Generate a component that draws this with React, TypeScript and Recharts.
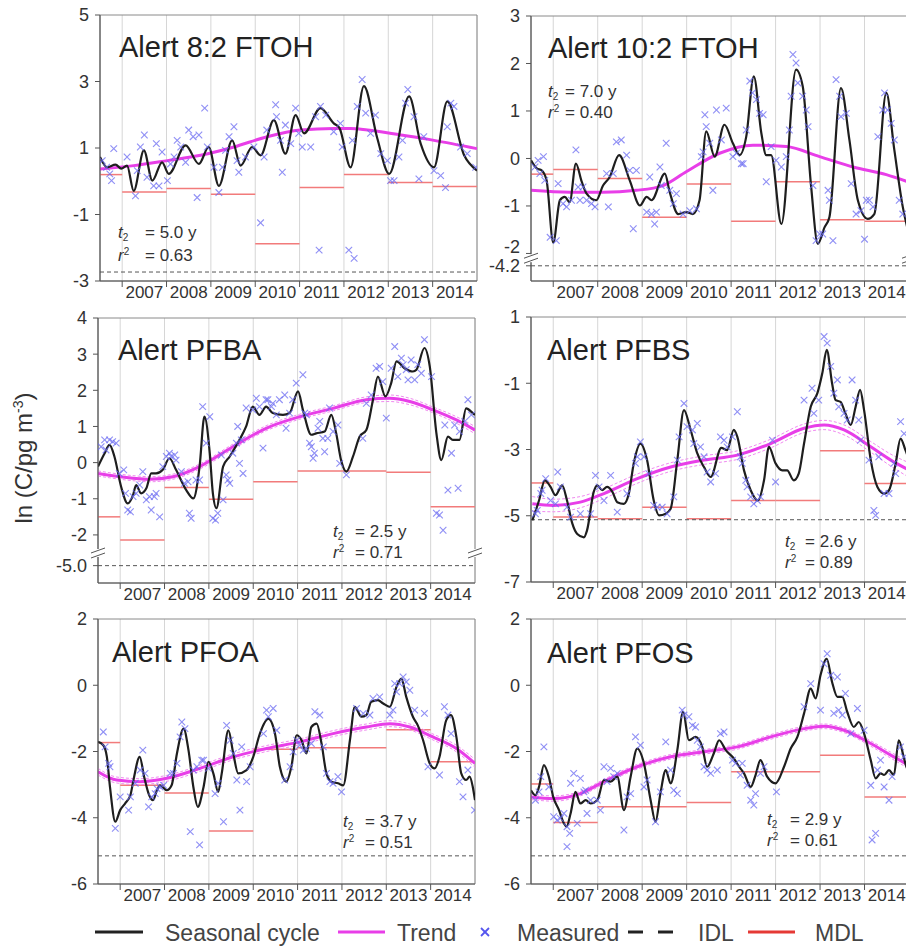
import React from 'react';
import {
  CartesianGrid,
  ComposedChart,
  Line,
  ReferenceArea,
  ReferenceDot,
  ReferenceLine,
  Scatter,
  XAxis,
  YAxis,
} from 'recharts';

const FONT = '"Liberation Sans", Arial, sans-serif';
const X0 = 2006.5;
const X1 = 2015;

const years = [2007, 2008, 2009, 2010, 2011, 2012, 2013, 2014];
// MDL is given per sampling year
const mdlEdges = [2006.5, 2007, 2008, 2009, 2010, 2011, 2012, 2013, 2014, 2015];

type Pt = [number, number];
type Band = [number, number, number];

// ---- Alert 8:2 FTOH
const ftoh82Cycle: Pt[] = [
  [2006.5, 0.73], [2006.66, 0.42], [2006.85, 0.5], [2006.98, 0.38], [2007.11, 0.47], [2007.26, -0.29],
  [2007.49, 0.93], [2007.68, 0.02], [2007.9, 0.57], [2008.05, 0.22], [2008.43, 1.08], [2008.73, 0.52],
  [2008.95, 1.03], [2009.18, -0.14], [2009.48, 1.23], [2009.67, 0.47], [2009.93, 1.03], [2010.12, 0.78],
  [2010.42, 1.84], [2010.68, 0.83], [2010.91, 1.99], [2011.1, 1.44], [2011.47, 2.2], [2011.77, 1.74],
  [2011.9, 1.6], [2012.15, 0.42], [2012.45, 2.86], [2012.75, 1.3], [2013.02, 0.22], [2013.47, 2.55],
  [2013.73, 1.13], [2014.03, 0.42], [2014.33, 2.4], [2014.71, 0.78], [2015, 0.32],
];
const ftoh82Trend: Pt[] = [
  [2006.5, 0.37], [2007.26, 0.47], [2008.02, 0.62], [2008.77, 0.78], [2009.52, 1.03], [2010.27, 1.34],
  [2011.02, 1.54], [2011.77, 1.59], [2012.15, 1.59], [2012.53, 1.54], [2013.28, 1.39], [2014.03, 1.23],
  [2015, 0.98],
];
const ftoh82Measured: Pt[] = [
  [2006.55, 0.62], [2006.65, 0.42], [2006.72, 0.22], [2006.76, 0.02], [2006.81, 0.98], [2007.11, 0.73],
  [2007.3, -0.44], [2007.34, 0.32], [2007.41, 1.03], [2007.5, 1.39], [2007.56, 0.12], [2007.71, -0.14],
  [2007.77, 1.13], [2007.83, -0.14], [2007.9, 0.88], [2008.02, 0.02], [2008.09, 0.52], [2008.17, 0.73],
  [2008.24, 1.23], [2008.32, 1.03], [2008.43, 0.57], [2008.5, 1.54], [2008.6, 1.34], [2008.69, -0.49],
  [2008.73, 1.39], [2008.86, 2.2], [2008.92, 1.03], [2009.07, 0.42], [2009.18, -0.34], [2009.26, 0.42],
  [2009.33, 0.93], [2009.41, 1.34], [2009.52, 1.64], [2009.59, 0.62], [2009.63, 0.27], [2009.78, 0.73],
  [2009.97, 1.03], [2010.12, -1.25], [2010.2, 0.73], [2010.26, 1.54], [2010.46, 2.3], [2010.48, 1.94],
  [2010.57, 1.23], [2010.61, 0.27], [2010.68, 1.69], [2010.8, 1.13], [2010.91, 2.2], [2010.98, 1.44],
  [2011.06, 1.03], [2011.25, 1.03], [2011.36, 1.94], [2011.44, -2.07], [2011.47, 2.25], [2011.59, 1.99],
  [2011.77, 1.49], [2011.92, 1.74], [2011.96, 1.03], [2012.11, -2.07], [2012.19, 1.23], [2012.23, -2.32],
  [2012.3, 2.25], [2012.41, 3.06], [2012.49, 2.05], [2012.6, 1.44], [2012.71, 1.99], [2012.83, 0.83],
  [2012.98, 0.62], [2013.05, 0.02], [2013.13, 0.02], [2013.24, 0.73], [2013.32, 1.23], [2013.39, 2.35],
  [2013.44, 2.76], [2013.58, 1.94], [2013.69, 0.07], [2013.8, 1.34], [2014.03, 0.32], [2014.18, 0.17],
  [2014.29, -0.19], [2014.33, 1.64], [2014.41, 2.35], [2014.48, 2.25], [2014.63, 1.03], [2014.78, 0.83],
  [2014.97, 0.42],
];
const ftoh82Mdl = [0.2, -0.32, -0.22, -0.39, -1.88, -0.19, 0.2, -0.04, -0.16];
const ftoh82Idl = -2.73;

// ---- Alert 10:2 FTOH (axis broken below -2, IDL at -4.2)
const ftoh102Cycle: Pt[] = [
  [2006.5, -0.04], [2006.63, -0.21], [2006.74, -0.25], [2006.85, -0.46], [2007.0, -1.77], [2007.15, -0.88],
  [2007.26, -0.81], [2007.37, -0.92], [2007.51, -0.11], [2007.64, -0.49], [2007.75, -0.74], [2007.97, -0.88],
  [2008.12, -0.57], [2008.27, -0.39], [2008.48, 0.07], [2008.72, -0.46], [2008.95, -0.99], [2009.1, -0.81],
  [2009.21, -0.88], [2009.51, -0.32], [2009.62, -0.71], [2009.81, -1.17], [2009.99, -1.13], [2010.14, -1.17],
  [2010.29, -0.88], [2010.44, 0.57], [2010.63, 0.04], [2010.85, 0.71], [2011.04, 0.32], [2011.19, 0.07],
  [2011.34, 0.46], [2011.51, 1.73], [2011.68, 0.53], [2011.79, 0.07], [2011.9, 0.07], [2012.13, -1.38],
  [2012.46, 1.87], [2012.61, 1.52], [2012.8, -0.6], [2012.95, -1.8], [2013.1, -1.45], [2013.21, -1.24],
  [2013.47, 1.48], [2013.66, 0.39], [2013.85, -0.88], [2014.07, -1.27], [2014.22, -1.17], [2014.49, 1.38],
  [2014.67, 0.18], [2014.86, -1.02], [2015, -1.6],
];
const ftoh102Trend: Pt[] = [
  [2006.5, -0.67], [2007.37, -0.71], [2008.12, -0.71], [2008.87, -0.67], [2009.47, -0.57], [2009.99, -0.28],
  [2010.74, 0.11], [2011.49, 0.28], [2012.24, 0.25], [2012.99, 0.04], [2013.74, -0.18], [2014.49, -0.34],
  [2015, -0.5],
];
const ftoh102Measured: Pt[] = [
  [2006.59, -0.18], [2006.66, -0.04], [2006.7, -0.32], [2006.78, 0.04], [2006.81, -0.46], [2006.93, -1.66],
  [2007.07, -1.73], [2007.11, -0.53], [2007.22, -0.95], [2007.3, -1.02], [2007.41, -0.88], [2007.51, 0.18],
  [2007.56, -0.6], [2007.6, -0.88], [2007.67, -0.6], [2007.75, -0.88], [2007.86, -0.95], [2007.94, -1.02],
  [2008.2, -0.32], [2008.24, -1.02], [2008.35, -0.32], [2008.42, 0.35], [2008.53, 0.39], [2008.65, 0.07],
  [2008.72, -0.25], [2008.8, -1.48], [2008.87, -0.25], [2009.1, -1.13], [2009.17, -0.39], [2009.21, -1.17],
  [2009.28, -1.38], [2009.32, -1.13], [2009.4, -0.18], [2009.43, -0.57], [2009.54, 0.32], [2009.62, -0.67],
  [2009.7, -0.95], [2009.77, -0.74], [2009.92, -1.17], [2010.07, -1.1], [2010.22, -1.06], [2010.33, 0.04],
  [2010.37, 0.14], [2010.41, 0.92], [2010.44, 0.67], [2010.52, 0.32], [2010.59, -0.67], [2010.67, 1.02],
  [2010.78, 0.39], [2010.89, 1.06], [2011.04, 0.04], [2011.12, 0.11], [2011.23, -0.11], [2011.27, -0.11],
  [2011.34, 0.6], [2011.42, 1.63], [2011.48, 1.38], [2011.57, 1.24], [2011.64, 0.95], [2011.72, 0.92],
  [2011.79, -0.49], [2011.9, 0.25], [2012.01, -0.04], [2012.13, -0.18], [2012.24, 0.04], [2012.31, 0.6],
  [2012.35, 1.31], [2012.39, 2.19], [2012.46, 2.01], [2012.5, 1.59], [2012.61, 1.31], [2012.69, 1.02],
  [2012.73, 0.67], [2012.84, -0.57], [2012.91, -1.73], [2012.99, -1.59], [2013.06, -1.59], [2013.18, -0.67],
  [2013.21, -0.88], [2013.29, -1.73], [2013.36, 1.66], [2013.44, 1.31], [2013.47, 0.88], [2013.59, 0.95],
  [2013.7, -0.53], [2013.81, -1.17], [2013.92, -1.1], [2014.0, -1.7], [2014.04, -0.88], [2014.11, -0.88],
  [2014.19, -1.02], [2014.3, 0.46], [2014.41, 1.02], [2014.45, 1.38], [2014.52, 1.02], [2014.6, 0.74],
  [2014.67, 0.39], [2014.78, -0.88], [2014.86, -1.17],
];
const ftoh102Mdl = [-0.33, -0.23, -0.42, -1.24, -0.54, -1.32, -0.49, -1.29, -1.32];
const ftoh102Idl = -4.2;

// ---- Alert PFBA (axis broken below -2, IDL at -5.0)
const pfbaCycle: Pt[] = [
  [2006.5, -0.11], [2006.65, 0.26], [2006.76, 0.49], [2006.87, 0.17], [2007.02, -0.66], [2007.17, -1.13],
  [2007.29, -0.9], [2007.36, -0.62], [2007.47, -0.85], [2007.59, -0.71], [2007.7, -0.3], [2007.81, -0.3],
  [2007.96, -0.2], [2008.11, 0.12], [2008.26, -0.2], [2008.49, -0.76], [2008.65, -0.99], [2008.79, -0.11],
  [2008.9, 1.27], [2009.02, 0.26], [2009.09, -0.85], [2009.17, -1.26], [2009.32, -0.11], [2009.47, 0.17],
  [2009.69, 0.63], [2009.84, 1.0], [2009.99, 1.55], [2010.14, 1.32], [2010.29, 1.55], [2010.44, 1.37],
  [2010.67, 1.32], [2010.82, 1.37], [2011.01, 1.97], [2011.12, 1.46], [2011.31, 0.77], [2011.42, 0.81],
  [2011.61, 0.86], [2011.76, 1.32], [2011.87, 0.81], [2011.98, 0.07], [2012.1, -0.25], [2012.25, 0.17],
  [2012.4, 0.72], [2012.55, 0.9], [2012.7, 1.74], [2012.81, 2.38], [2012.98, 1.83], [2013.11, 2.2],
  [2013.23, 2.8], [2013.41, 2.61], [2013.6, 2.52], [2013.68, 2.57], [2013.86, 3.17], [2013.98, 2.66],
  [2014.13, 0.81], [2014.24, 0.07], [2014.39, 0.72], [2014.5, 0.63], [2014.65, 0.63], [2014.8, 1.5],
  [2014.95, 1.37], [2015, 1.32],
];
const pfbaTrend: Pt[] = [
  [2006.5, -0.3], [2007.29, -0.43], [2007.66, -0.46], [2008.19, -0.39], [2008.79, -0.11], [2009.54, 0.44],
  [2010.29, 0.95], [2011.05, 1.27], [2011.8, 1.5], [2012.55, 1.74], [2013.08, 1.78], [2013.53, 1.69],
  [2014.05, 1.46], [2014.58, 1.18], [2015, 0.9],
];
const pfbaBand: Band[] = [
  [2006.5, -0.37, -0.23], [2007.29, -0.5, -0.36], [2007.66, -0.53, -0.39], [2008.19, -0.46, -0.32],
  [2008.79, -0.18, -0.04], [2009.54, 0.37, 0.51], [2010.29, 0.88, 1.02], [2011.05, 1.2, 1.34],
  [2011.8, 1.43, 1.57], [2012.55, 1.66, 1.82], [2013.08, 1.69, 1.87], [2013.53, 1.6, 1.78],
  [2014.05, 1.38, 1.54], [2014.58, 1.09, 1.27], [2015, 0.8, 1.0],
];
const pfbaMeasured: Pt[] = [
  [2006.57, 0.44], [2006.65, 0.63], [2006.68, 0.35], [2006.76, 0.63], [2006.83, 0.58], [2006.91, 0.54],
  [2006.98, -0.3], [2007.08, -0.2], [2007.12, -0.85], [2007.17, -1.31], [2007.23, -1.36], [2007.29, -0.94],
  [2007.36, -0.85], [2007.44, -0.62], [2007.51, -0.25], [2007.59, -1.03], [2007.66, -0.94], [2007.7, -1.31],
  [2007.77, -0.94], [2007.81, -0.85], [2007.89, -1.5], [2007.96, -0.11], [2008.04, 0.17], [2008.11, 0.26],
  [2008.15, 0.17], [2008.23, 0.21], [2008.26, 0.07], [2008.38, -0.25], [2008.45, -0.57], [2008.53, -0.53],
  [2008.56, -1.4], [2008.6, -1.54], [2008.71, -0.48], [2008.79, -0.48], [2008.86, 1.55], [2008.94, 0.54],
  [2009.02, 1.27], [2009.09, -1.54], [2009.15, -1.59], [2009.2, -1.4], [2009.28, 0.21], [2009.32, -1.03],
  [2009.39, -0.34], [2009.43, -0.48], [2009.47, -0.57], [2009.54, 0.26], [2009.62, 0.54], [2009.65, 1.0],
  [2009.69, -0.02], [2009.73, 0.63], [2009.77, -0.3], [2009.84, 1.51], [2009.99, 1.46], [2010.07, 1.78],
  [2010.14, 1.55], [2010.22, 0.4], [2010.29, 1.74], [2010.33, 1.74], [2010.41, 1.55], [2010.44, 1.64],
  [2010.52, 1.32], [2010.59, 1.74], [2010.71, 1.87], [2010.74, 0.95], [2010.82, 1.37], [2010.89, 1.74],
  [2010.97, 2.2], [2011.12, 2.43], [2011.16, 1.37], [2011.2, 1.32], [2011.27, 0.54], [2011.31, 0.44],
  [2011.35, 0.12], [2011.38, 0.26], [2011.46, 0.95], [2011.5, 1.14], [2011.57, 0.67], [2011.61, 0.3],
  [2011.68, 0.67], [2011.72, 1.51], [2011.8, 0.86], [2011.91, 1.04], [2011.95, -0.02], [2012.1, -0.34],
  [2012.47, 0.67], [2012.55, 1.64], [2012.66, 1.87], [2012.77, 2.61], [2012.85, 2.66], [2012.92, 2.24],
  [2013.0, 1.23], [2013.11, 2.61], [2013.19, 3.21], [2013.26, 2.38], [2013.34, 2.89], [2013.38, 2.71],
  [2013.45, 2.57], [2013.49, 2.29], [2013.56, 2.84], [2013.64, 2.29], [2013.71, 2.71], [2013.79, 2.47],
  [2013.86, 3.4], [2014.02, 2.38], [2014.13, -1.4], [2014.2, -1.45], [2014.28, -1.87], [2014.32, 1.04],
  [2014.39, -0.76], [2014.47, 0.26], [2014.54, 1.04], [2014.62, -0.71], [2014.65, 0.86], [2014.77, 1.14],
  [2014.84, 1.74], [2014.92, 1.32],
];
const pfbaMdl = [-1.5, -2.14, -0.69, -1.01, -0.53, -0.23, -0.23, -0.27, -1.22];
const pfbaIdl = -5.0;

// ---- Alert PFBS
const pfbsCycle: Pt[] = [
  [2006.53, -5.14], [2006.68, -4.54], [2006.81, -3.93], [2006.94, -4.13], [2007.05, -4.38], [2007.2, -4.08],
  [2007.31, -4.54], [2007.43, -5.24], [2007.54, -5.55], [2007.69, -5.65], [2007.76, -5.44], [2007.91, -4.28],
  [2007.99, -4.08], [2008.1, -4.23], [2008.21, -4.13], [2008.33, -4.28], [2008.44, -4.59], [2008.59, -4.64],
  [2008.7, -4.33], [2008.81, -3.42], [2008.96, -2.82], [2009.11, -3.32], [2009.26, -4.54], [2009.38, -4.99],
  [2009.53, -4.94], [2009.64, -4.79], [2009.79, -3.32], [2009.94, -1.81], [2010.09, -2.41], [2010.24, -3.12],
  [2010.39, -3.53], [2010.54, -3.83], [2010.78, -2.95], [2010.91, -3.02], [2011.06, -2.41], [2011.14, -2.62],
  [2011.29, -3.63], [2011.44, -4.23], [2011.6, -4.54], [2011.74, -3.93], [2011.85, -2.92], [2012.0, -3.42],
  [2012.15, -3.63], [2012.26, -3.63], [2012.41, -3.93], [2012.52, -3.73], [2012.64, -2.82], [2012.79, -1.71],
  [2012.94, -1.3], [2013.05, -0.7], [2013.15, 0.01], [2013.27, -1.0], [2013.35, -1.51], [2013.46, -1.56],
  [2013.57, -1.91], [2013.69, -2.26], [2013.8, -1.71], [2013.9, -1.2], [2013.99, -1.81], [2014.14, -3.32],
  [2014.29, -4.13], [2014.44, -4.33], [2014.55, -4.23], [2014.7, -3.42], [2014.81, -2.67], [2014.92, -3.02],
  [2015, -3.3],
];
const pfbsTrend: Pt[] = [
  [2006.53, -4.64], [2007.01, -4.69], [2007.61, -4.59], [2008.14, -4.33], [2008.89, -3.88], [2009.64, -3.53],
  [2010.39, -3.32], [2011.14, -3.17], [2011.89, -2.82], [2012.64, -2.36], [2013.09, -2.26], [2013.54, -2.41],
  [2014.14, -2.92], [2014.59, -3.32], [2015, -3.62],
];
const pfbsBand: Band[] = [
  [2006.53, -4.86, -4.42], [2007.01, -4.88, -4.5], [2007.61, -4.76, -4.42], [2008.14, -4.48, -4.18],
  [2008.89, -4.02, -3.74], [2009.64, -3.66, -3.4], [2010.39, -3.45, -3.19], [2011.14, -3.3, -3.04],
  [2011.89, -2.95, -2.69], [2012.64, -2.49, -2.23], [2013.09, -2.4, -2.12], [2013.54, -2.56, -2.26],
  [2014.14, -3.08, -2.76], [2014.59, -3.5, -3.14], [2015, -3.84, -3.4],
];
const pfbsMeasured: Pt[] = [
  [2006.6, -4.94], [2006.64, -4.84], [2006.72, -4.33], [2006.75, -4.23], [2006.83, -3.88], [2006.94, -4.54],
  [2007.05, -4.64], [2007.1, -3.68], [2007.16, -4.13], [2007.31, -4.74], [2007.39, -5.04], [2007.61, -4.94],
  [2007.84, -4.94], [2007.95, -3.78], [2008.03, -4.13], [2008.14, -4.54], [2008.29, -3.78], [2008.44, -4.89],
  [2008.66, -4.33], [2008.85, -3.42], [2008.89, -3.22], [2008.96, -2.77], [2009.04, -3.22], [2009.15, -3.73],
  [2009.26, -4.69], [2009.34, -4.74], [2009.45, -4.74], [2009.56, -4.94], [2009.71, -4.43], [2009.79, -3.32],
  [2009.83, -2.62], [2009.94, -1.61], [2010.01, -2.31], [2010.13, -2.41], [2010.16, -2.82], [2010.24, -2.21],
  [2010.31, -2.92], [2010.39, -3.22], [2010.46, -3.68], [2010.54, -3.98], [2010.65, -3.73], [2010.76, -2.62],
  [2010.84, -2.72], [2010.91, -2.92], [2011.03, -2.62], [2011.14, -1.86], [2011.21, -3.22], [2011.25, -3.42],
  [2011.33, -3.93], [2011.36, -4.13], [2011.44, -4.43], [2011.51, -4.64], [2011.59, -4.54], [2011.66, -4.43],
  [2011.93, -2.72], [2012.0, -3.98], [2012.64, -1.51], [2012.82, -1.15], [2012.86, -1.91], [2012.97, -1.51],
  [2013.09, 0.41], [2013.16, 0.21], [2013.24, -0.49], [2013.31, -1.3], [2013.39, -0.9], [2013.42, -1.71],
  [2013.54, -1.91], [2013.61, -2.11], [2013.72, -0.9], [2013.8, -1.51], [2013.87, -2.11], [2013.91, -2.72],
  [2014.1, -3.32], [2014.21, -4.84], [2014.25, -4.99], [2014.32, -3.22], [2014.44, -4.33], [2014.55, -4.33],
  [2014.66, -3.42], [2014.7, -3.73], [2014.81, -2.16], [2014.89, -2.52],
];
const pfbsMdl = [-4.01, -5.04, -5.09, -4.74, -5.09, -4.54, -4.54, -3.04, -4.03];
const pfbsIdl = -5.12;

// ---- Alert PFOA
const pfoaCycle: Pt[] = [
  [2006.5, -1.71], [2006.62, -1.81], [2006.7, -2.16], [2006.77, -3.07], [2006.89, -4.12], [2007.0, -3.77],
  [2007.11, -3.57], [2007.23, -3.32], [2007.3, -2.86], [2007.44, -2.16], [2007.54, -2.76], [2007.64, -3.27],
  [2007.74, -3.47], [2007.83, -3.17], [2007.9, -3.02], [2008.05, -3.17], [2008.16, -3.02], [2008.28, -2.06],
  [2008.43, -1.31], [2008.54, -1.96], [2008.65, -3.07], [2008.75, -3.67], [2008.88, -3.07], [2008.99, -2.31],
  [2009.1, -2.66], [2009.21, -3.22], [2009.29, -2.66], [2009.44, -1.36], [2009.55, -2.06], [2009.66, -2.66],
  [2009.85, -2.56], [2010.0, -2.16], [2010.15, -1.46], [2010.34, -1.01], [2010.49, -1.46], [2010.6, -2.46],
  [2010.75, -2.91], [2010.86, -2.46], [2010.98, -1.51], [2011.09, -1.66], [2011.2, -2.06], [2011.31, -1.26],
  [2011.43, -1.16], [2011.54, -1.76], [2011.65, -2.66], [2011.76, -2.91], [2011.91, -2.96], [2012.03, -3.02],
  [2012.18, -1.66], [2012.29, -0.65], [2012.44, -0.95], [2012.55, -0.9], [2012.66, -0.5], [2012.81, -0.45],
  [2012.93, -0.55], [2013.08, -0.65], [2013.23, -0.05], [2013.34, 0.2], [2013.45, -0.35], [2013.6, -0.95],
  [2013.71, -1.21], [2013.83, -1.66], [2013.98, -2.36], [2014.09, -2.51], [2014.2, -2.16], [2014.35, -1.06],
  [2014.46, -0.9], [2014.58, -1.56], [2014.69, -2.66], [2014.8, -2.86], [2014.88, -2.76], [2014.95, -3.07],
  [2015, -3.47],
];
const pfoaTrend: Pt[] = [
  [2006.5, -2.61], [2006.92, -2.86], [2007.45, -2.91], [2008.05, -2.81], [2008.8, -2.51], [2009.55, -2.16],
  [2010.3, -1.91], [2011.05, -1.71], [2011.8, -1.46], [2012.55, -1.26], [2013.08, -1.16], [2013.53, -1.26],
  [2014.05, -1.56], [2014.58, -1.91], [2015, -2.36],
];
const pfoaBand: Band[] = [
  [2006.5, -2.71, -2.51], [2006.92, -2.95, -2.77], [2007.45, -3.0, -2.82], [2008.05, -2.9, -2.72],
  [2008.8, -2.6, -2.42], [2009.55, -2.25, -2.07], [2010.3, -2.0, -1.82], [2011.05, -1.8, -1.62],
  [2011.8, -1.55, -1.37], [2012.55, -1.35, -1.17], [2013.08, -1.25, -1.07], [2013.53, -1.35, -1.17],
  [2014.05, -1.65, -1.47], [2014.58, -2.01, -1.81], [2015, -2.48, -2.24],
];
const pfoaMeasured: Pt[] = [
  [2006.62, -1.41], [2006.66, -1.86], [2006.74, -2.36], [2006.77, -2.46], [2006.89, -4.32], [2007.0, -3.37],
  [2007.19, -3.77], [2007.23, -3.37], [2007.34, -2.96], [2007.45, -2.56], [2007.51, -1.96], [2007.56, -2.66],
  [2007.64, -3.67], [2007.71, -3.37], [2007.79, -3.27], [2007.83, -3.12], [2007.9, -3.07], [2007.98, -3.02],
  [2008.13, -2.66], [2008.2, -2.66], [2008.28, -2.36], [2008.35, -1.56], [2008.39, -1.11], [2008.46, -1.31],
  [2008.58, -4.42], [2008.65, -2.56], [2008.73, -2.46], [2008.79, -4.82], [2008.84, -2.26], [2008.88, -2.26],
  [2008.99, -2.51], [2009.14, -3.27], [2009.21, -2.96], [2009.33, -4.12], [2009.4, -1.21], [2009.48, -1.66],
  [2009.55, -2.06], [2009.63, -2.86], [2009.7, -3.77], [2009.74, -1.86], [2009.85, -2.91], [2009.93, -2.46],
  [2010.23, -1.46], [2010.3, -0.75], [2010.34, -0.95], [2010.45, -0.7], [2010.53, -1.36], [2010.71, -2.86],
  [2010.83, -2.46], [2010.9, -2.01], [2010.98, -1.66], [2011.05, -1.81], [2011.13, -1.96], [2011.2, -1.91],
  [2011.31, -1.76], [2011.39, -0.8], [2011.5, -0.9], [2011.58, -1.86], [2011.65, -2.66], [2011.73, -2.91],
  [2011.8, -2.96], [2011.91, -2.76], [2011.99, -3.22], [2012.33, -0.7], [2012.48, -0.85], [2012.63, -0.9],
  [2012.7, -0.4], [2012.85, -0.35], [2013.08, -0.9], [2013.15, -0.75], [2013.19, 0.05], [2013.23, -0.2],
  [2013.3, 0.05], [2013.38, 0.25], [2013.45, 0.1], [2013.53, -0.15], [2013.64, -0.75], [2013.86, -0.85],
  [2013.94, -2.46], [2014.2, -2.71], [2014.31, -0.65], [2014.39, -0.9], [2014.46, -1.46], [2014.65, -2.91],
  [2014.73, -3.37], [2014.84, -2.56], [2014.99, -3.77],
];
const pfoaMdl = [-1.73, -3.02, -3.25, -4.4, -1.93, -1.89, -1.89, -1.34, -2.31];
const pfoaIdl = -5.15;

// ---- Alert PFOS
const pfosCycle: Pt[] = [
  [2006.5, -3.17], [2006.6, -3.32], [2006.68, -3.07], [2006.79, -2.41], [2006.9, -2.76], [2007.0, -3.37],
  [2007.13, -3.77], [2007.24, -4.17], [2007.3, -4.27], [2007.39, -3.87], [2007.5, -3.22], [2007.61, -3.57],
  [2007.73, -3.47], [2007.84, -3.57], [2007.99, -3.47], [2008.14, -2.86], [2008.29, -2.91], [2008.44, -2.76],
  [2008.59, -3.77], [2008.74, -2.76], [2008.89, -1.91], [2009.04, -2.36], [2009.19, -3.47], [2009.3, -4.12],
  [2009.41, -3.27], [2009.53, -2.56], [2009.64, -2.96], [2009.79, -1.96], [2009.92, -0.8], [2010.05, -1.66],
  [2010.2, -1.56], [2010.35, -1.86], [2010.46, -2.46], [2010.61, -2.06], [2010.73, -1.66], [2010.88, -1.96],
  [2011.06, -2.21], [2011.18, -2.46], [2011.29, -2.66], [2011.44, -3.07], [2011.55, -2.71], [2011.66, -2.26],
  [2011.81, -2.76], [2012.0, -2.96], [2012.19, -2.46], [2012.34, -1.91], [2012.49, -1.56], [2012.64, -0.85],
  [2012.79, -0.1], [2012.9, -0.4], [2013.01, 0.3], [2013.15, 0.8], [2013.27, 0.1], [2013.39, -0.35],
  [2013.5, -0.35], [2013.61, -0.8], [2013.76, -1.26], [2013.87, -1.11], [2013.99, -1.46], [2014.14, -2.26],
  [2014.25, -2.81], [2014.36, -2.66], [2014.44, -2.71], [2014.55, -2.56], [2014.66, -2.71], [2014.77, -1.66],
  [2014.88, -2.16], [2014.94, -2.46], [2015, -2.6],
];
const pfosTrend: Pt[] = [
  [2006.5, -3.37], [2007.01, -3.42], [2007.61, -3.27], [2008.14, -2.91], [2008.89, -2.46], [2009.64, -2.16],
  [2010.39, -2.01], [2011.14, -1.86], [2011.89, -1.56], [2012.64, -1.31], [2013.09, -1.24], [2013.54, -1.36],
  [2014.14, -1.76], [2014.59, -2.11], [2015, -2.42],
];
const pfosBand: Band[] = [
  [2006.5, -3.45, -3.29], [2007.01, -3.5, -3.34], [2007.61, -3.34, -3.2], [2008.14, -2.98, -2.84],
  [2008.89, -2.53, -2.39], [2009.64, -2.23, -2.09], [2010.39, -2.08, -1.94], [2011.14, -1.93, -1.79],
  [2011.89, -1.63, -1.49], [2012.64, -1.38, -1.24], [2013.09, -1.31, -1.17], [2013.54, -1.43, -1.29],
  [2014.14, -1.84, -1.68], [2014.59, -2.2, -2.02], [2015, -2.52, -2.32],
];
const pfosMeasured: Pt[] = [
  [2006.6, -3.47], [2006.68, -3.22], [2006.72, -2.76], [2006.79, -1.86], [2006.9, -3.07], [2007.01, -3.97],
  [2007.09, -4.07], [2007.16, -4.02], [2007.24, -3.87], [2007.31, -4.27], [2007.31, -4.87], [2007.37, -4.47],
  [2007.39, -2.96], [2007.46, -2.66], [2007.54, -4.17], [2007.61, -2.81], [2007.69, -3.22], [2007.73, -3.17],
  [2007.76, -3.87], [2007.84, -3.47], [2007.99, -3.47], [2008.06, -3.77], [2008.14, -2.46], [2008.21, -2.91],
  [2008.29, -2.51], [2008.36, -2.76], [2008.44, -2.66], [2008.59, -4.37], [2008.66, -3.37], [2008.74, -3.27],
  [2008.85, -1.56], [2008.96, -1.81], [2009.04, -3.07], [2009.11, -2.86], [2009.3, -4.12], [2009.41, -3.22],
  [2009.53, -1.71], [2009.64, -2.56], [2009.71, -3.17], [2009.79, -3.27], [2009.9, -0.75], [2009.94, -0.9],
  [2010.05, -0.95], [2010.13, -1.21], [2010.2, -1.26], [2010.24, -1.66], [2010.31, -1.86], [2010.39, -2.46],
  [2010.46, -2.56], [2010.54, -2.66], [2010.69, -2.56], [2010.76, -1.46], [2010.84, -1.41], [2011.03, -2.26],
  [2011.1, -2.36], [2011.21, -2.71], [2011.25, -2.36], [2011.36, -3.02], [2011.44, -3.47], [2011.51, -3.62],
  [2011.55, -3.27], [2011.66, -2.66], [2011.74, -2.46], [2012.02, -3.22], [2012.64, -0.65], [2012.79, 0.05],
  [2013.01, -0.75], [2013.09, 0.65], [2013.16, 0.95], [2013.24, 0.3], [2013.31, -0.85], [2013.39, 0.25],
  [2013.42, -0.75], [2013.5, -0.9], [2013.57, -0.25], [2013.69, -1.46], [2013.84, -0.7], [2013.99, -1.36],
  [2014.14, -3.02], [2014.17, -4.67], [2014.25, -4.47], [2014.29, -2.56], [2014.36, -2.26], [2014.44, -3.07],
  [2014.55, -3.47], [2014.62, -2.76], [2014.81, -1.86], [2014.89, -2.16],
];
const pfosMdl = [-2.98, -4.14, -3.67, -3.67, -3.54, -2.61, -2.61, -2.11, -3.37];
const pfosIdl = -5.15;

interface PanelSpec {
  title: string;
  t2: string;
  r2: string;
  cycle: Pt[];
  trend: Pt[];
  band?: Band[];
  measured: Pt[];
  mdl: number[];
  idl: number;
  idlAt?: number; // position on a broken axis
  breakAt?: number;
  yDomain: [number, number];
  yTicks: number[];
  // layout (page pixels)
  box: { x: number; y: number; w: number; h: number };
  labelShift?: number; // lift the tick label just above the axis break
  titlePos: [number, number];
  statsPos: [number, number, number, number]; // x, eqX, y1, y2
}

const panels: PanelSpec[] = [
  {
    title: 'Alert 8:2 FTOH', t2: '5.0', r2: '0.63',
    cycle: ftoh82Cycle, trend: ftoh82Trend, measured: ftoh82Measured, mdl: ftoh82Mdl, idl: ftoh82Idl,
    yDomain: [-3, 5], yTicks: [-3, -1, 1, 3, 5],
    box: { x: 100, y: 15, w: 377, h: 266 }, titlePos: [119, 57], statsPos: [118, 145, 238, 261],
  },
  {
    title: 'Alert 10:2 FTOH', t2: '7.0', r2: '0.40',
    cycle: ftoh102Cycle, trend: ftoh102Trend, measured: ftoh102Measured, mdl: ftoh102Mdl, idl: ftoh102Idl,
    idlAt: -2.26, breakAt: -2.1, labelShift: -7,
    yDomain: [-2.58, 3], yTicks: [-2, -1, 0, 1, 2, 3],
    box: { x: 531, y: 16, w: 378, h: 265 }, titlePos: [548, 58], statsPos: [548, 565, 97, 118],
  },
  {
    title: 'Alert PFBA', t2: '2.5', r2: '0.71',
    cycle: pfbaCycle, trend: pfbaTrend, band: pfbaBand, measured: pfbaMeasured, mdl: pfbaMdl, idl: pfbaIdl,
    idlAt: -2.85, breakAt: -2.5,
    yDomain: [-3.33, 4], yTicks: [-2, -1, 0, 1, 2, 3, 4],
    box: { x: 98, y: 318, w: 377, h: 265 }, titlePos: [118, 360], statsPos: [333, 355, 537, 558],
  },
  {
    title: 'Alert PFBS', t2: '2.6', r2: '0.89',
    cycle: pfbsCycle, trend: pfbsTrend, band: pfbsBand, measured: pfbsMeasured, mdl: pfbsMdl, idl: pfbsIdl,
    yDomain: [-7, 1], yTicks: [-7, -5, -3, -1, 1],
    box: { x: 531, y: 317, w: 378, h: 265 }, titlePos: [547, 360], statsPos: [785, 805, 547, 568],
  },
  {
    title: 'Alert PFOA', t2: '3.7', r2: '0.51',
    cycle: pfoaCycle, trend: pfoaTrend, band: pfoaBand, measured: pfoaMeasured, mdl: pfoaMdl, idl: pfoaIdl,
    yDomain: [-6, 2], yTicks: [-6, -4, -2, 0, 2],
    box: { x: 98, y: 619, w: 377, h: 265 }, titlePos: [112, 662], statsPos: [343, 365, 827, 848],
  },
  {
    title: 'Alert PFOS', t2: '2.9', r2: '0.61',
    cycle: pfosCycle, trend: pfosTrend, band: pfosBand, measured: pfosMeasured, mdl: pfosMdl, idl: pfosIdl,
    yDomain: [-6, 2], yTicks: [-6, -4, -2, 0, 2],
    box: { x: 531, y: 619, w: 378, h: 265 }, titlePos: [547, 663], statsPos: [767, 790, 825, 846],
  },
];

const toPts = (a: Pt[]) => a.map(([x, y]) => ({ x, y }));

function Cross(props: any) {
  const { cx, cy } = props;
  if (cx == null || cy == null) return null;
  const s = 3.3;
  return (
    <g stroke="#6a6af2" strokeWidth={1.1} opacity={0.75}>
      <line x1={cx - s} y1={cy - s} x2={cx + s} y2={cy + s} />
      <line x1={cx - s} y1={cy + s} x2={cx + s} y2={cy - s} />
    </g>
  );
}

function BreakMark(props: any) {
  const { cx, cy } = props;
  if (cx == null || cy == null) return null;
  return (
    <g>
      <rect x={cx - 3} y={cy - 4} width={6} height={8} fill="#fff" />
      <line x1={cx - 7} y1={cy} x2={cx + 7} y2={cy - 5} stroke="#555" strokeWidth={1} />
      <line x1={cx - 7} y1={cy + 5} x2={cx + 7} y2={cy} stroke="#555" strokeWidth={1} />
    </g>
  );
}

function PanelChart({ p }: { p: PanelSpec }) {
  const { box } = p;
  const half = box.w / (X1 - X0) / 2;
  const idlY = p.idlAt ?? p.idl;
  const ticks = p.idlAt != null ? [idlY, ...p.yTicks] : p.yTicks;
  const lowest = Math.min(...p.yTicks);

  const yearTick = (props: any) => (
    <text
      x={props.x + half}
      y={props.y + 11}
      textAnchor="middle"
      fontSize={17}
      fill="#333"
      fontFamily={FONT}
    >
      {props.payload.value}
    </text>
  );

  const valueTick = (props: any) => {
    const v = props.payload.value;
    const isIdl = p.idlAt != null && v === p.idlAt;
    const shift = p.labelShift && v === lowest ? p.labelShift : 0;
    return (
      <text
        x={props.x}
        y={props.y + shift}
        dy="0.36em"
        textAnchor="end"
        fontSize={18}
        fill="#333"
        fontFamily={FONT}
      >
        {isIdl ? p.idl.toFixed(1) : String(v)}
      </text>
    );
  };

  return (
    <div style={{ position: 'absolute', left: box.x - 60, top: box.y - 10 }}>
      <ComposedChart
        width={box.w + 70}
        height={box.h + 40}
        margin={{ top: 10, right: 10, bottom: 0, left: 0 }}
      >
        <CartesianGrid horizontal={false} stroke="#d6d6d6" />
        <XAxis
          type="number"
          dataKey="x"
          domain={[X0, X1]}
          ticks={years}
          interval={0}
          allowDataOverflow
          height={30}
          tickSize={6}
          tickMargin={0}
          stroke="#555"
          tick={yearTick}
        />
        <YAxis
          type="number"
          dataKey="y"
          domain={p.yDomain}
          ticks={ticks}
          interval={0}
          allowDataOverflow
          width={60}
          tickSize={5}
          tickMargin={6}
          stroke="#555"
          tick={valueTick}
        />
        <ReferenceArea
          x1={X0}
          x2={X1}
          y1={p.yDomain[0]}
          y2={p.yDomain[1]}
          fill="none"
          stroke="#8a8a8a"
          strokeWidth={1}
          ifOverflow="visible"
        />
        {p.mdl.map((v, i) => (
          <ReferenceLine
            key={'mdl' + i}
            segment={[
              { x: mdlEdges[i], y: v },
              { x: mdlEdges[i + 1], y: v },
            ]}
            stroke="#f27b7b"
            strokeWidth={1.5}
          />
        ))}
        <ReferenceLine y={idlY} stroke="#555" strokeDasharray="4 3" strokeWidth={1} />
        {p.band && (
          <Line
            data={p.band.map(([x, lo]) => ({ x, lo }))}
            dataKey="lo"
            type="monotone"
            stroke="#f08af0"
            strokeWidth={1}
            strokeDasharray="3 2"
            dot={false}
            activeDot={false}
            isAnimationActive={false}
          />
        )}
        {p.band && (
          <Line
            data={p.band.map(([x, , hi]) => ({ x, hi }))}
            dataKey="hi"
            type="monotone"
            stroke="#f08af0"
            strokeWidth={1}
            strokeDasharray="3 2"
            dot={false}
            activeDot={false}
            isAnimationActive={false}
          />
        )}
        <Line
          data={toPts(p.trend)}
          dataKey="y"
          type="monotone"
          stroke="#e83ee8"
          strokeWidth={3}
          dot={false}
          activeDot={false}
          isAnimationActive={false}
        />
        <Line
          data={toPts(p.cycle)}
          dataKey="y"
          type="monotone"
          stroke="#1e1e1e"
          strokeWidth={2.2}
          dot={false}
          activeDot={false}
          isAnimationActive={false}
        />
        <Scatter data={toPts(p.measured)} shape={Cross} isAnimationActive={false} />
        {p.breakAt != null && (
          <ReferenceDot x={X0} y={p.breakAt} r={0} ifOverflow="visible" shape={BreakMark} />
        )}
        {p.breakAt != null && (
          <ReferenceDot x={X1} y={p.breakAt} r={0} ifOverflow="visible" shape={BreakMark} />
        )}
      </ComposedChart>
    </div>
  );
}

export default function App() {
  return (
    <div
      style={{
        position: 'fixed',
        left: 0,
        top: 0,
        width: 906,
        height: 952,
        overflow: 'hidden',
        background: '#fff',
        fontFamily: FONT,
      }}
    >
      {panels.map((p) => (
        <PanelChart key={p.title} p={p} />
      ))}
      <svg
        width={906}
        height={952}
        style={{ position: 'absolute', left: 0, top: 0, pointerEvents: 'none' }}
        fontFamily={FONT}
      >
        {panels.map((p) => (
          <g key={'t' + p.title}>
            <text x={p.titlePos[0]} y={p.titlePos[1]} fontSize={29} fill="#222">
              {p.title}
            </text>
            <text x={p.statsPos[0]} y={p.statsPos[2]} fontSize={17} fill="#333">
              <tspan fontStyle="italic">t</tspan>
              <tspan fontSize={10} dy={3}>2</tspan>
            </text>
            <text x={p.statsPos[1]} y={p.statsPos[2]} fontSize={17} fill="#333">
              {'= ' + p.t2 + ' y'}
            </text>
            <text x={p.statsPos[0]} y={p.statsPos[3]} fontSize={17} fill="#333">
              <tspan fontStyle="italic">r</tspan>
              <tspan fontSize={10} dy={-6}>2</tspan>
            </text>
            <text x={p.statsPos[1]} y={p.statsPos[3]} fontSize={17} fill="#333">
              {'= ' + p.r2}
            </text>
          </g>
        ))}
        <text transform="translate(32,458) rotate(-90)" textAnchor="middle" fontSize={24} fill="#333">
          ln (C/pg m<tspan fontSize={14} dy={-9}>-3</tspan>
          <tspan dy={9}>)</tspan>
        </text>
        {/* legend */}
        <line x1={95} y1={932} x2={143} y2={932} stroke="#222" strokeWidth={3} />
        <text x={165} y={941} fontSize={23} fill="#444">Seasonal cycle</text>
        <line x1={338} y1={932} x2={385} y2={932} stroke="#e83ee8" strokeWidth={3} />
        <text x={397} y={941} fontSize={23} fill="#444">Trend</text>
        <g stroke="#5555ee" strokeWidth={1.8}>
          <line x1={481} y1={928} x2={489} y2={936} />
          <line x1={481} y1={936} x2={489} y2={928} />
        </g>
        <text x={517} y={941} fontSize={23} fill="#444">Measured</text>
        <line x1={628} y1={932} x2={643} y2={932} stroke="#222" strokeWidth={3} />
        <line x1={658} y1={932} x2={673} y2={932} stroke="#222" strokeWidth={3} />
        <text x={698} y={941} fontSize={23} fill="#444">IDL</text>
        <line x1={748} y1={932} x2={795} y2={932} stroke="#e53935" strokeWidth={3} />
        <text x={815} y={941} fontSize={23} fill="#444">MDL</text>
      </svg>
    </div>
  );
}
